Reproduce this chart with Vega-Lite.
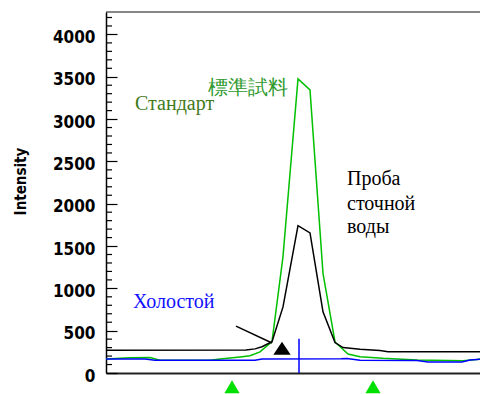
{
  "$schema": "https://vega.github.io/schema/vega-lite/v6.json",
  "width": 374,
  "height": 361,
  "autosize": {"type": "none"},
  "padding": {"left": 106, "top": 12, "right": 0, "bottom": 21},
  "background": "white",
  "config": {"view": {"stroke": null}},
  "datasets": {
    "lines": [
      {"t": 0, "v": 166, "s": "Стандарт"},
      {"t": 24, "v": 180, "s": "Стандарт"},
      {"t": 44, "v": 182, "s": "Стандарт"},
      {"t": 54, "v": 152, "s": "Стандарт"},
      {"t": 104, "v": 150, "s": "Стандарт"},
      {"t": 114, "v": 165, "s": "Стандарт"},
      {"t": 134, "v": 190, "s": "Стандарт"},
      {"t": 144, "v": 205, "s": "Стандарт"},
      {"t": 154, "v": 250, "s": "Стандарт"},
      {"t": 166, "v": 370, "s": "Стандарт"},
      {"t": 177, "v": 1375, "s": "Стандарт"},
      {"t": 192, "v": 3475, "s": "Стандарт"},
      {"t": 204, "v": 3345, "s": "Стандарт"},
      {"t": 217, "v": 1178, "s": "Стандарт"},
      {"t": 229, "v": 367, "s": "Стандарт"},
      {"t": 242, "v": 225, "s": "Стандарт"},
      {"t": 254, "v": 192, "s": "Стандарт"},
      {"t": 277, "v": 173, "s": "Стандарт"},
      {"t": 311, "v": 154, "s": "Стандарт"},
      {"t": 357, "v": 145, "s": "Стандарт"},
      {"t": 371, "v": 160, "s": "Стандарт"},
      {"t": 374, "v": 165, "s": "Стандарт"},
      {"t": 0, "v": 269, "s": "Проба"},
      {"t": 140, "v": 272, "s": "Проба"},
      {"t": 149, "v": 285, "s": "Проба"},
      {"t": 156, "v": 310, "s": "Проба"},
      {"t": 166, "v": 370, "s": "Проба"},
      {"t": 177, "v": 781, "s": "Проба"},
      {"t": 192, "v": 1740, "s": "Проба"},
      {"t": 204, "v": 1655, "s": "Проба"},
      {"t": 217, "v": 722, "s": "Проба"},
      {"t": 229, "v": 360, "s": "Проба"},
      {"t": 237, "v": 300, "s": "Проба"},
      {"t": 254, "v": 280, "s": "Проба"},
      {"t": 274, "v": 265, "s": "Проба"},
      {"t": 282, "v": 252, "s": "Проба"},
      {"t": 374, "v": 252, "s": "Проба"},
      {"t": 0, "v": 166, "s": "Холостой"},
      {"t": 39, "v": 166, "s": "Холостой"},
      {"t": 49, "v": 150, "s": "Холостой"},
      {"t": 149, "v": 150, "s": "Холостой"},
      {"t": 156, "v": 166, "s": "Холостой"},
      {"t": 235, "v": 168, "s": "Холостой"},
      {"t": 241, "v": 170, "s": "Холостой"},
      {"t": 254, "v": 152, "s": "Холостой"},
      {"t": 311, "v": 148, "s": "Холостой"},
      {"t": 322, "v": 130, "s": "Холостой"},
      {"t": 356, "v": 130, "s": "Холостой"},
      {"t": 364, "v": 154, "s": "Холостой"},
      {"t": 374, "v": 162, "s": "Холостой"}
    ],
    "labels": [
      {"t": 29, "v": 3109, "text": "Стандарт", "c": "#3f7a1c"},
      {"t": 102, "v": 3298, "text": "標準試料", "c": "#2e9a2e"},
      {"t": 27, "v": 765, "text": "Холостой", "c": "#1010ff"},
      {"t": 241, "v": 2219, "text": "Проба", "c": "#000000"},
      {"t": 241, "v": 1925, "text": "сточной", "c": "#000000"},
      {"t": 241, "v": 1653, "text": "воды", "c": "#000000"}
    ],
    "arrow": [
      {"t": 130, "v": 553},
      {"t": 166, "v": 355}
    ],
    "head": [
      {"t": 176, "v": 292}
    ],
    "frame": [
      {"v": 4265}
    ],
    "cursor": [
      {"t": 193, "v": 0, "v1": 405}
    ],
    "marker": [
      {"t": 126, "v": -163},
      {"t": 267, "v": -163}
    ],
    "minor": [
      {"v": 100}, {"v": 200}, {"v": 300}, {"v": 400},
      {"v": 600}, {"v": 700}, {"v": 800}, {"v": 900},
      {"v": 1100}, {"v": 1200}, {"v": 1300}, {"v": 1400},
      {"v": 1600}, {"v": 1700}, {"v": 1800}, {"v": 1900},
      {"v": 2100}, {"v": 2200}, {"v": 2300}, {"v": 2400},
      {"v": 2600}, {"v": 2700}, {"v": 2800}, {"v": 2900},
      {"v": 3100}, {"v": 3200}, {"v": 3300}, {"v": 3400},
      {"v": 3600}, {"v": 3700}, {"v": 3800}, {"v": 3900},
      {"v": 4100}, {"v": 4200}
    ]
  },
  "layer": [
    {
      "data": {"name": "lines"},
      "mark": {"type": "line", "strokeWidth": 1.5, "clip": true},
      "encoding": {
        "x": {"field": "t", "type": "quantitative", "scale": {"domain": [0, 374], "nice": false, "zero": false},
              "axis": {"title": null, "labels": false, "ticks": false, "grid": false, "domainColor": "#222222", "domainWidth": 2}},
        "y": {"field": "v", "type": "quantitative", "scale": {"domain": [0, 4265], "nice": false},
              "axis": {
                "title": "Intensity",
                "titleFont": "DejaVu Sans Condensed, Liberation Sans Narrow, Arial Narrow, sans-serif",
                "titleFontSize": 15,
                "titleFontWeight": "bold",
                "titleColor": "black",
                "titleX": -86,
                "titleY": 169,
                "titleBaseline": "middle",
                "values": [0, 500, 1000, 1500, 2000, 2500, 3000, 3500, 4000],
                "tickCount": 20,
                "format": "d",
                "labelFont": "DejaVu Sans Condensed, Liberation Sans Narrow, Arial Narrow, sans-serif",
                "labelFontSize": 17,
                "labelFontWeight": "bold",
                "labelColor": "black",
                "labelOverlap": false,
                "labelBound": false,
                "labelFlush": false,
                "labelOffset": 3,
                "labelPadding": 22,
                "grid": false,
                "tickColor": "black",
                "tickWidth": 1.2,
                "tickSize": -11,
                "domainColor": "black",
                "domainWidth": 1.5
              }},
        "color": {"field": "s", "type": "nominal", "legend": null,
                  "scale": {"domain": ["Стандарт", "Проба", "Холостой"], "range": ["#00c000", "#000000", "#0000ff"]}},
        "order": {"field": "t", "type": "quantitative"}
      }
    },
    {
      "data": {"name": "minor"},
      "mark": {"type": "rule", "color": "black", "strokeWidth": 1.2},
      "encoding": {"x": {"datum": 0}, "x2": {"datum": 6}, "y": {"field": "v", "type": "quantitative"}}
    },
    {
      "data": {"name": "frame"},
      "mark": {"type": "rule", "color": "#111111", "strokeWidth": 1.2},
      "encoding": {"y": {"field": "v", "type": "quantitative"}}
    },
    {
      "data": {"name": "cursor"},
      "mark": {"type": "rule", "color": "#0000ff", "strokeWidth": 1.5},
      "encoding": {"x": {"field": "t", "type": "quantitative"}, "y": {"field": "v", "type": "quantitative"}, "y2": {"field": "v1"}}
    },
    {
      "data": {"name": "arrow"},
      "mark": {"type": "line", "color": "black", "strokeWidth": 1.5},
      "encoding": {"x": {"field": "t", "type": "quantitative"}, "y": {"field": "v", "type": "quantitative"}}
    },
    {
      "data": {"name": "head"},
      "mark": {"type": "point", "shape": "M-1,0.75L1,0.75L0,-0.75Z", "filled": true, "color": "black", "opacity": 1, "size": 300},
      "encoding": {"x": {"field": "t", "type": "quantitative"}, "y": {"field": "v", "type": "quantitative"}}
    },
    {
      "data": {"name": "marker"},
      "mark": {"type": "point", "shape": "triangle-up", "filled": true, "color": "#00e000", "opacity": 1, "size": 230},
      "encoding": {"x": {"field": "t", "type": "quantitative"}, "y": {"field": "v", "type": "quantitative"}}
    },
    {
      "data": {"name": "labels"},
      "mark": {"type": "text", "align": "left", "baseline": "alphabetic", "font": "Liberation Serif, Times New Roman, serif", "fontSize": 20},
      "encoding": {
        "x": {"field": "t", "type": "quantitative"},
        "y": {"field": "v", "type": "quantitative"},
        "text": {"field": "text"},
        "color": {"field": "c", "type": "nominal", "scale": null}
      }
    }
  ]
}
